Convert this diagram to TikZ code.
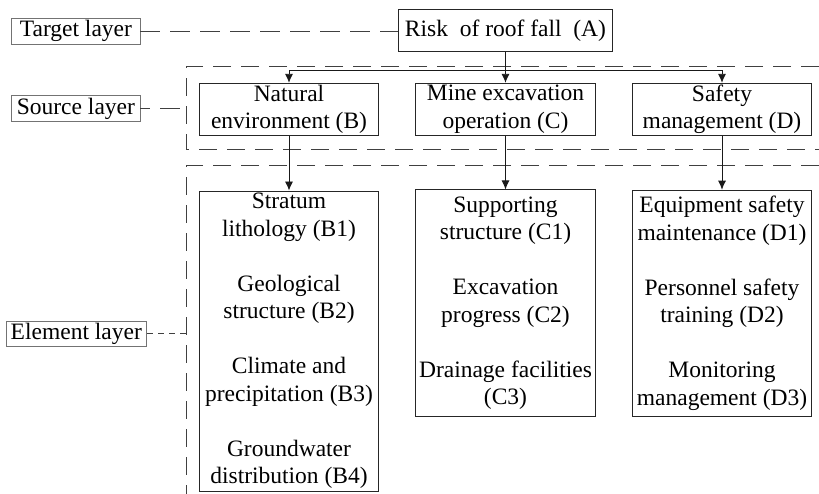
\documentclass[tikz,border=0pt]{standalone}
\usepackage{fontspec}
\setmainfont{Liberation Serif}
\usetikzlibrary{arrows.meta}
\begin{document}
\begin{tikzpicture}[x=1pt,y=-1pt,
  font=\fontsize{23.5}{27.5}\selectfont,
  lbl/.style={draw=black!55, line width=0.8pt, inner sep=0pt, align=center},
  mbox/.style={draw=black!85, line width=0.9pt, inner sep=0pt, align=center, minimum width=179.4pt},
  arr/.style={-{Latex[length=9pt,width=8pt]}, line width=0.9pt, black!90},
  dline/.style={line width=1pt, black!75, dash pattern=on 20pt off 10pt},
  drect/.style={line width=1pt, black!75, dash pattern=on 18pt off 10pt}]
\useasboundingbox (0,0) rectangle (819,494);
% layer labels
\node[lbl, minimum width=128.3pt, minimum height=26pt] (tgt) at (75.9,31.3) {Target layer};
\node[lbl, minimum width=128.3pt, minimum height=26.7pt] (src) at (75.9,108.4) {Source layer};
\node[lbl, minimum width=140.7pt, minimum height=24.3pt] (ele) at (76.3,333.9) {Element layer};
% main boxes
\node[mbox, minimum width=214pt, minimum height=42.4pt] (A) at (505.5,30.5) {Risk\ \ of roof fall\ \ (A)};
\node[mbox, minimum height=52pt] (B) at (289,109.3) {Natural\\environment (B)};
\node[mbox, minimum height=52pt] (C) at (505.5,109.3) {Mine excavation\\operation (C)};
\node[mbox, minimum height=52pt] (D) at (722,109.3) {Safety\\management (D)};
\node[mbox, minimum height=300pt] (B1) at (289,341) {Stratum\\lithology (B1)\\[27.5pt]Geological\\structure (B2)\\[27.5pt]Climate and\\precipitation (B3)\\[27.5pt]Groundwater\\distribution (B4)};
\node[mbox, minimum height=226.7pt] (C1) at (505.5,303.3) {Supporting\\structure (C1)\\[27.5pt]Excavation\\progress (C2)\\[27.5pt]Drainage facilities\\(C3)};
\node[mbox, minimum height=226pt] (D1) at (722,303.2) {Equipment safety\\maintenance (D1)\\[27.5pt]Personnel safety\\training (D2)\\[27.5pt]Monitoring\\management (D3)};
% dashed layer frames
\draw[drect] (819,66.7) -- (186.7,66.7) -- (186.7,150) -- (819,150);
\draw[drect] (819,165.7) -- (186.7,165.7) -- (186.7,494);
\coordinate (srcend) at (186.7,108.4);
\coordinate (eleend) at (186.7,333.9);
% dashed label connectors
\draw[dline] (tgt.east) -- (tgt.east -| A.west);
\draw[dline, dash phase=10pt] (src.east) -- (srcend);
\draw[dline, dash pattern=on 6pt off 5pt] (ele.east) -- (eleend);
% arrows
\coordinate (jn) at (505.5,70);
\draw[arr] (A.south) -- (C.north);
\draw[arr] (jn) -| (B.north);
\draw[arr] (jn) -| (D.north);
\draw[arr] (B.south) -- (B1.north);
\draw[arr] (C.south) -- (C1.north);
\draw[arr] (D.south) -- (D1.north);
\end{tikzpicture}
\end{document}
